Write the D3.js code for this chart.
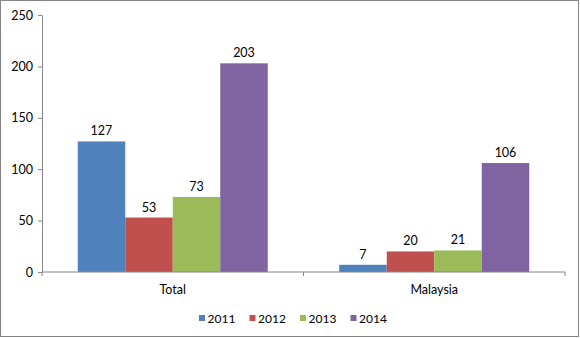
<!DOCTYPE html>
<html><head><meta charset="utf-8">
<script src="https://cdn.jsdelivr.net/npm/d3@7"></script>
<style>body{margin:0;background:#fff}svg{display:block}text{font-family:Lato,"Open Sans",sans-serif;fill:#000}</style>
</head><body>
<script>
const categories = ["Total", "Malaysia"];
const seriesNames = ["2011", "2012", "2013", "2014"];
const values2011 = [127, 7];
const values2012 = [53, 20];
const values2013 = [73, 21];
const values2014 = [203, 106];
const colors = ["#4F81BD", "#C0504D", "#9BBB59", "#8064A2"];
const yTicks = [0, 50, 100, 150, 200, 250];

const series = [values2011, values2012, values2013, values2014];
const W = 580, H = 338;
const m = {left: 42, right: 15, top: 15, bottom: 66};
const svg = d3.select("body").append("svg").attr("width", W).attr("height", H);
svg.append("rect").attr("x", 0.5).attr("y", 0.5).attr("width", W - 2).attr("height", H - 2)
  .attr("fill", "#fff").attr("stroke", "#868686");

const x0 = d3.scaleBand().domain(categories).range([m.left, W - m.right]).paddingInner(0.2734).paddingOuter(0.1367);
const x1 = d3.scaleBand().domain(seriesNames).range([0, x0.bandwidth()]);
const y = d3.scaleLinear().domain([0, 250]).range([H - m.bottom, m.top]);

const g = svg.append("g");
categories.forEach((c, ci) => {
  seriesNames.forEach((s, si) => {
    const v = series[si][ci];
    g.append("rect").attr("x", x0(c) + x1(s)).attr("y", y(v)).attr("width", x1.bandwidth())
      .attr("height", y(0) - y(v)).attr("fill", colors[si]);
    g.append("text").attr("x", x0(c) + x1(s) + x1.bandwidth() / 2).attr("y", y(v) - 6)
      .attr("text-anchor", "middle").attr("font-size", 12.5).text(v);
  });
});

const yAxis = svg.append("g").attr("transform", `translate(${m.left},0)`)
  .call(d3.axisLeft(y).tickValues(yTicks).tickSize(4).tickPadding(5).tickSizeOuter(0));
yAxis.selectAll("text").attr("font-size", 12.5).attr("fill", "#000");
yAxis.selectAll("line,path").attr("stroke", "#868686");

const xAxisG = svg.append("g").attr("transform", `translate(0,${y(0)})`);
xAxisG.append("line").attr("x1", m.left).attr("x2", W - m.right).attr("stroke", "#868686");
[m.left, (m.left + W - m.right) / 2, W - m.right].forEach(t => {
  xAxisG.append("line").attr("x1", t).attr("x2", t).attr("y1", 0).attr("y2", 4).attr("stroke", "#868686");
});
categories.forEach(c => {
  xAxisG.append("text").attr("x", x0(c) + x0.bandwidth() / 2).attr("y", 22)
    .attr("text-anchor", "middle").attr("font-size", 12.5).text(c);
});

const leg = svg.append("g").attr("transform", "translate(199,318)");
seriesNames.forEach((s, i) => {
  const li = leg.append("g").attr("transform", `translate(${i * 50.5},0)`);
  li.append("rect").attr("x", 0).attr("y", -3).attr("width", 6).attr("height", 6).attr("fill", colors[i]);
  li.append("text").attr("x", 8.5).attr("y", 4.5).attr("font-size", 12).text(s);
});
</script>
</body></html>
